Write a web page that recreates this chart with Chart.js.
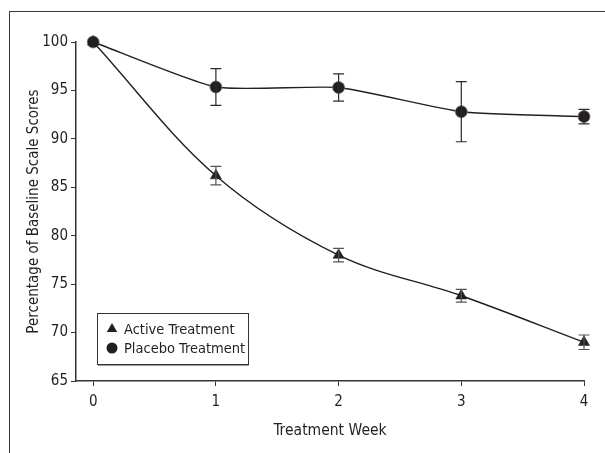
<!DOCTYPE html>
<html>
<head>
<meta charset="utf-8">
<script src="https://cdn.jsdelivr.net/npm/chart.js@4.4.0/dist/chart.umd.min.js"></script>
<style>
  html, body { margin: 0; padding: 0; background: #fff; }
  #wrap { position: relative; width: 605px; height: 453px; overflow: hidden; }
  #frame { position: absolute; left: 9px; top: 11px; width: 700px; height: 500px;
           border-left: 1.5px solid #3a3a3a; border-top: 1.5px solid #3a3a3a; }
  canvas { position: absolute; left: 0; top: 0; }
</style>
</head>
<body>
<div id="wrap">
  <div id="frame"></div>
  <canvas id="chart" width="605" height="453"></canvas>
</div>
<script>
// no narrow Helvetica here, so the condensed DejaVu face stands in
const FONT = "'DejaVu Sans Condensed', 'DejaVu Sans', sans-serif";
const INK = '#231f20';

// data
const weeks = [0, 1, 2, 3, 4];
const yTicks = [65, 70, 75, 80, 85, 90, 95, 100];
const activeMean = [100, 86.2, 78.0, 73.8, 69.0];
const activeErr = [0, 0.95, 0.7, 0.65, 0.75];
const placeboMean = [100, 95.35, 95.3, 92.8, 92.3];
const placeboErr = [0, 1.9, 1.4, 3.1, 0.75];

const toPoints = (ys) => weeks.map((w, i) => ({ x: w, y: ys[i] }));

// error bars with short caps
const errorBars = {
  id: 'errorBars',
  afterDatasetsDraw(chart) {
    const { ctx, scales: { x, y } } = chart;
    const sets = [[placeboMean, placeboErr, '#2a2a2a'], [activeMean, activeErr, '#555']];
    ctx.save();
    ctx.lineWidth = 1.2;
    sets.forEach(([means, errs, col]) => {
      ctx.strokeStyle = col;
      weeks.forEach((w, i) => {
        if (!errs[i]) return;
        const px = x.getPixelForValue(w);
        const top = y.getPixelForValue(means[i] + errs[i]);
        const bot = y.getPixelForValue(means[i] - errs[i]);
        ctx.beginPath();
        ctx.moveTo(px, top); ctx.lineTo(px, bot);
        ctx.moveTo(px - 5.5, top); ctx.lineTo(px + 5.5, top);
        ctx.moveTo(px - 5.5, bot); ctx.lineTo(px + 5.5, bot);
        ctx.stroke();
      });
    });
    ctx.restore();
  }
};

// boxed legend sitting inside the plot
const boxLegend = {
  id: 'boxLegend',
  afterDraw(chart) {
    const { ctx, chartArea: ca } = chart;
    const bx = ca.left + 21, by = ca.bottom - 68, bw = 151, bh = 51;
    ctx.save();
    ctx.fillStyle = '#fff';
    ctx.fillRect(bx, by, bw, bh);
    ctx.strokeStyle = '#9a9a9a';
    ctx.lineWidth = 2;
    ctx.beginPath(); ctx.moveTo(bx + 1, by + bh + 1); ctx.lineTo(bx + bw + 1, by + bh + 1); ctx.stroke();
    ctx.strokeStyle = '#333';
    ctx.lineWidth = 1;
    ctx.strokeRect(bx + 0.5, by + 0.5, bw, bh);
    ctx.font = '14.5px ' + FONT;
    ctx.textBaseline = 'middle';
    chart.data.datasets.forEach((ds, i) => {
      const cy = by + 16 + i * 19;
      ctx.fillStyle = INK;
      ctx.strokeStyle = INK;
      Chart.helpers.drawPoint(ctx, { pointStyle: ds.pointStyle, radius: ds.pointStyle === 'triangle' ? 6 : 5.5, borderWidth: 0 }, bx + 15, cy);
      ctx.fillStyle = INK;
      ctx.fillText(ds.label, bx + 27, cy + 1);
    });
    ctx.restore();
  }
};

new Chart(document.getElementById('chart'), {
  type: 'line',
  data: {
    datasets: [
      {
        label: 'Active Treatment',
        data: toPoints(activeMean),
        borderColor: INK, borderWidth: 1.4,
        pointStyle: 'triangle', pointRadius: 6.4,
        pointBackgroundColor: INK, pointBorderColor: INK, pointBorderWidth: 0.5,
        tension: 0.35, clip: false
      },
      {
        label: 'Placebo Treatment',
        data: toPoints(placeboMean),
        borderColor: INK, borderWidth: 1.4,
        pointStyle: 'circle', pointRadius: 6,
        pointBackgroundColor: INK, pointBorderColor: '#777', pointBorderWidth: 0.8,
        tension: 0.18, clip: false
      }
    ]
  },
  plugins: [errorBars, boxLegend],
  options: {
    responsive: false,
    animation: false,
    layout: { padding: { top: 42, right: 21, left: 0, bottom: 0 } },
    plugins: { legend: { display: false }, tooltip: { enabled: false } },
    scales: {
      x: {
        type: 'linear', min: -0.14, max: 4,
        afterBuildTicks: (s) => { s.ticks = weeks.map(v => ({ value: v })); },
        afterFit: (s) => { s.height = 72; },
        grid: { drawOnChartArea: false, tickLength: 5, color: '#333', lineWidth: 1 },
        border: { color: '#333', width: 1.5 },
        ticks: { color: INK, font: { family: FONT, size: 15 }, padding: 7 },
        title: { display: true, text: 'Treatment Week', color: INK,
                 font: { family: FONT, size: 15.5 }, padding: { top: 0, bottom: 13 } }
      },
      y: {
        min: 65, max: 100,
        afterBuildTicks: (s) => { s.ticks = yTicks.map(v => ({ value: v })); },
        afterFit: (s) => { s.width = 76; },
        grid: { drawOnChartArea: false, tickLength: 5, color: '#333', lineWidth: 1 },
        border: { color: '#333', width: 1.5 },
        ticks: { color: INK, font: { family: FONT, size: 15 }, padding: 3 },
        title: { display: true, text: 'Percentage of Baseline Scale Scores', color: INK,
                 font: { family: FONT, size: 15 }, padding: { top: 25, bottom: 0 } }
      }
    }
  }
});
</script>
</body>
</html>
